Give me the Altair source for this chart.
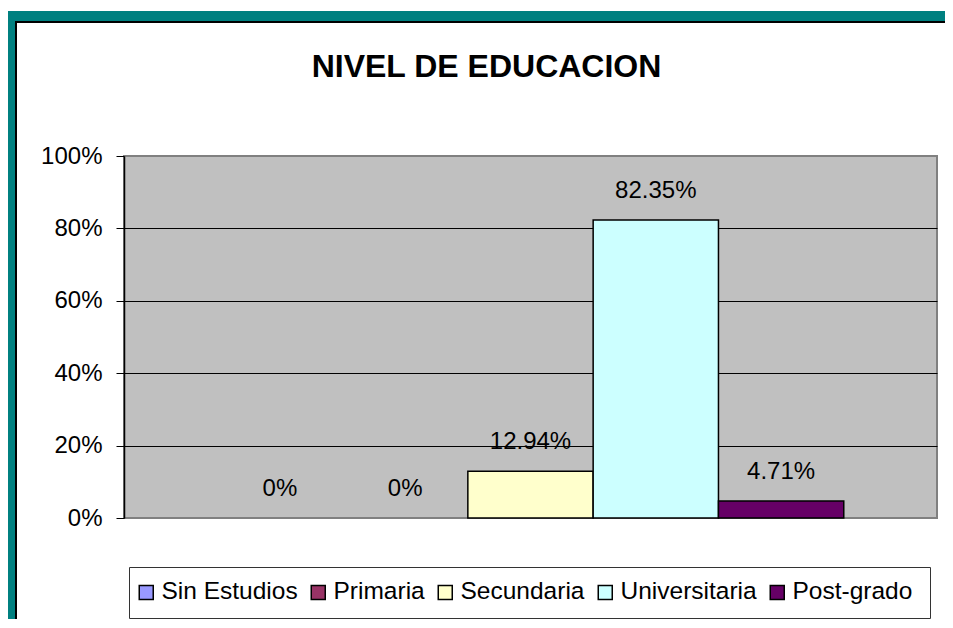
import altair as alt
import pandas as pd

categories = ["Sin Estudios", "Primaria", "Secundaria", "Universitaria", "Post-grado"]
values = [0.0, 0.0, 0.1294, 0.8235, 0.0471]
colors = ["#9999FF", "#993366", "#FFFFCC", "#CCFFFF", "#660066"]
y_ticks = [0, 0.2, 0.4, 0.6, 0.8, 1.0]
title_text = "NIVEL DE EDUCACION"

df = pd.DataFrame({"Nivel": categories, "Porcentaje": values})

W, H = 813, 362
PAD = {"left": 116, "top": 148, "right": 8, "bottom": 101}

x_enc = alt.X("Nivel:N", sort=categories,
              scale=alt.Scale(paddingInner=0, paddingOuter=0.744), axis=None)
y_enc = alt.Y("Porcentaje:Q", scale=alt.Scale(domain=[0, 1]),
              axis=alt.Axis(values=y_ticks, format=".0%", title=None,
                            labelFontSize=24, labelColor="black",
                            tickColor="black", tickSize=8, tickWidth=1,
                            domainColor="black", domainWidth=1.5,
                            labelPadding=14,
                            gridColor=alt.condition("datum.value == 0 || datum.value == 1",
                                                    alt.value("#808080"), alt.value("black")),
                            gridWidth=1))

base = alt.Chart(df)

bars = base.mark_bar(stroke="black", strokeWidth=1.5).encode(
    x=x_enc,
    y=y_enc,
    color=alt.Color("Nivel:N", sort=categories,
                    scale=alt.Scale(domain=categories, range=colors),
                    legend=alt.Legend(title=None, orient="none", legendX=10, legendY=424,
                                      direction="horizontal", columns=5,
                                      symbolType="square", symbolSize=196,
                                      symbolStrokeColor="black", symbolStrokeWidth=1.5,
                                      labelFontSize=24.5, labelColor="black", labelLimit=0,
                                      padding=0, columnPadding=8, labelOffset=3)),
    strokeOpacity=alt.condition("datum.Porcentaje > 0", alt.value(1), alt.value(0)),
)

labels = base.transform_calculate(
    lbl="datum.Porcentaje == 0 ? '0%' : format(datum.Porcentaje, '.2%')"
).mark_text(fontSize=24, baseline="alphabetic", dy=-22, color="black").encode(
    x=alt.X("Nivel:N", sort=categories), y="Porcentaje:Q", text="lbl:N"
)

one = alt.Data(values=[{"k": 1}])


def frame_rect(x, x2, y, y2, color, stroke=None):
    kw = {"color": color}
    if stroke:
        kw = {"fill": color, "stroke": stroke, "strokeWidth": 1}
    return alt.Chart(one).mark_rect(**kw).encode(
        x=alt.value(x), x2=alt.value(x2), y=alt.value(y), y2=alt.value(y2))


teal = "#008080"
frame = [
    frame_rect(-116, 821, -145, -135, teal),
    frame_rect(-116, -109, -145, 463, teal),
    frame_rect(-109, 821, -135, -133, "black"),
    frame_rect(-109, -107, -135, 463, "black"),
    frame_rect(5.5, 806.5, 411.5, 462.5, "white", stroke="#333333"),
]

title = alt.Chart(one).mark_text(
    text=title_text, fontSize=32, fontWeight="bold", color="black",
    baseline="alphabetic", align="center"
).encode(x=alt.value(362.5), y=alt.value(-79))

chart = alt.layer(*frame, bars, labels, title).properties(
    width=W, height=H,
    autosize=alt.AutoSizeParams(type="none"),
    padding=PAD,
).configure(font="Liberation Sans").configure_view(
    fill="#C0C0C0", stroke="#808080", strokeWidth=2
)

chart.save("out.html", embed_options={"renderer": "svg", "actions": False})
